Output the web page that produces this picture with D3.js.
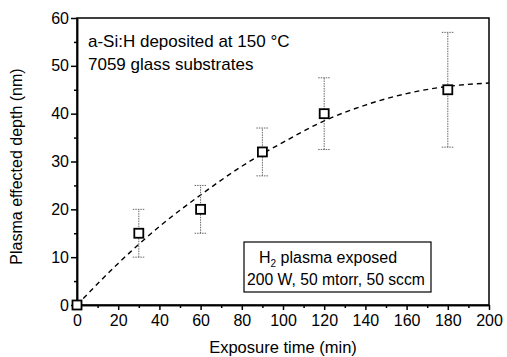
<!DOCTYPE html>
<html>
<head>
<meta charset="utf-8">
<script src="https://cdn.jsdelivr.net/npm/d3@7"></script>
<style>
  body { margin: 0; background: #fff; }
  svg { display: block; }
  text { font-family: "Liberation Sans", Arial, Helvetica, sans-serif; fill: #000; }
  .axis path, .axis line { stroke: #000; stroke-width: 1.5; }
  .axis text { font-size: 16px; }
</style>
</head>
<body>
<div id="chart"></div>
<script>
// measured points (min, nm)
var times = [0, 30, 60, 90, 120, 180];
var depths = [0, 15, 20, 32, 40, 45];
var errLow = [0, 10, 15, 27, 32.5, 33];
var errHigh = [0, 20, 25, 37, 47.5, 57];

// dashed guide curve
var fitTimes = [0, 20, 40, 60, 80, 100, 120, 140, 160, 180, 200];
var fitDepths = [0, 8.7, 16.4, 23, 29, 34, 38.5, 41.8, 44.2, 45.7, 46.4];

var xTicks = [0, 20, 40, 60, 80, 100, 120, 140, 160, 180, 200];
var yTicks = [0, 10, 20, 30, 40, 50, 60];
var xMinor = [10, 30, 50, 70, 90, 110, 130, 150, 170, 190];
var yMinor = [5, 15, 25, 35, 45, 55];

var noteLines = ["a-Si:H deposited at 150 °C", "7059 glass substrates"];
var boxLines = ["plasma exposed", "200 W, 50 mtorr, 50 sccm"];

var svgWidth = 507;
var svgHeight = 357;
var margin = { top: 18, right: 18, bottom: 52, left: 77 };
var width = svgWidth - margin.left - margin.right;
var height = svgHeight - margin.top - margin.bottom;

var x = d3.scaleLinear().domain([0, 200]).range([0, width]);
var y = d3.scaleLinear().domain([0, 60]).range([height, 0]);

var svg = d3.select("#chart")
  .append("svg")
  .attr("width", svgWidth)
  .attr("height", svgHeight);

var g = svg.append("g")
  .attr("transform", "translate(" + margin.left + "," + margin.top + ")");

// frame
g.append("rect")
  .attr("width", width)
  .attr("height", height)
  .attr("fill", "none")
  .attr("stroke", "#000")
  .attr("stroke-width", 1.5);

// add x axis
g.append("g")
  .attr("class", "axis axis--x")
  .attr("transform", "translate(0," + height + ")")
  .call(d3.axisBottom(x).tickValues(xTicks).tickSize(5).tickPadding(5).tickSizeOuter(0));

g.append("g")
  .attr("class", "axis")
  .attr("transform", "translate(0," + height + ")")
  .call(d3.axisBottom(x).tickValues(xMinor).tickSize(3).tickSizeOuter(0).tickFormat(""));

// add y axis
g.append("g")
  .attr("class", "axis axis--y")
  .call(d3.axisLeft(y).tickValues(yTicks).tickSize(6).tickPadding(2).tickSizeOuter(0));

g.append("g")
  .attr("class", "axis")
  .call(d3.axisLeft(y).tickValues(yMinor).tickSize(3).tickSizeOuter(0).tickFormat(""));

// axis titles
svg.append("text")
  .attr("x", margin.left + width / 2)
  .attr("y", 353)
  .attr("text-anchor", "middle")
  .style("font-size", "16.5px")
  .text("Exposure time (min)");

svg.append("text")
  .attr("transform", "translate(22," + (margin.top + height / 2 + 5) + ") rotate(-90)")
  .attr("text-anchor", "middle")
  .style("font-size", "16px")
  .text("Plasma effected depth (nm)");

// dashed curve
var line = d3.line()
  .curve(d3.curveMonotoneX)
  .x(function(d, i) { return x(fitTimes[i]); })
  .y(function(d) { return y(d); });

g.append("path")
  .datum(fitDepths)
  .attr("d", line)
  .attr("fill", "none")
  .attr("stroke", "#000")
  .attr("stroke-width", 1.4)
  .attr("stroke-dasharray", "5,4");

// error bars (grey, dotted)
var bars = g.append("g")
  .attr("stroke", "#666")
  .attr("stroke-width", 1)
  .attr("stroke-dasharray", "1.5,1");

times.forEach(function(t, i) {
  if (errHigh[i] === errLow[i]) return;
  bars.append("line")
    .attr("x1", x(t)).attr("x2", x(t))
    .attr("y1", y(errLow[i])).attr("y2", y(errHigh[i]));
  [errLow[i], errHigh[i]].forEach(function(v) {
    bars.append("line")
      .attr("x1", x(t) - 6).attr("x2", x(t) + 6)
      .attr("y1", y(v)).attr("y2", y(v));
  });
});

// open squares
g.selectAll(".pt")
  .data(depths)
  .enter()
  .append("rect")
  .attr("class", "pt")
  .attr("x", function(d, i) { return x(times[i]) - 4.5; })
  .attr("y", function(d) { return y(d) - 4.5; })
  .attr("width", 9)
  .attr("height", 9)
  .attr("fill", "#fff")
  .attr("stroke", "#000")
  .attr("stroke-width", 1.8);

// top-left note
g.selectAll(".note")
  .data(noteLines)
  .enter()
  .append("text")
  .attr("class", "note")
  .attr("x", 11)
  .attr("y", function(d, i) { return 29 + i * 23; })
  .style("font-size", "17px")
  .text(function(d) { return d; });

// conditions box
var box = g.append("g")
  .attr("transform", "translate(167,224)");

box.append("rect")
  .attr("width", 187)
  .attr("height", 50)
  .attr("fill", "#fff")
  .attr("stroke", "#000")
  .attr("stroke-width", 1.2);

var t1 = box.append("text")
  .attr("x", 15)
  .attr("y", 21)
  .style("font-size", "16px");
t1.append("tspan").text("H");
t1.append("tspan").attr("dy", 4).style("font-size", "10px").text("2");
t1.append("tspan").attr("dy", -4).text(" " + boxLines[0]);

box.append("text")
  .attr("x", 3)
  .attr("y", 43)
  .style("font-size", "15.7px")
  .text(boxLines[1]);
</script>
</body>
</html>
